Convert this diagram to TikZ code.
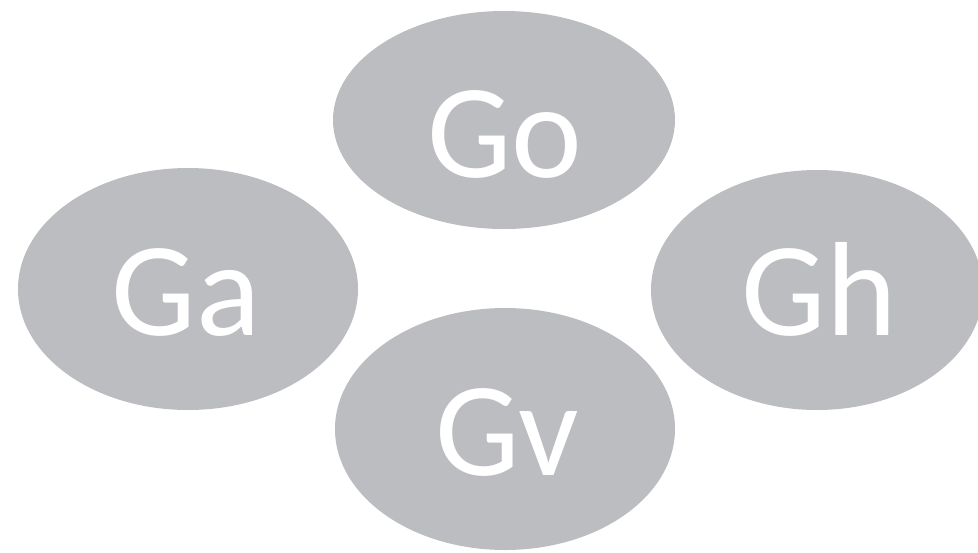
\documentclass[tikz,border=0pt]{standalone}
\usepackage{fontspec}
\setmainfont{Carlito}
\usetikzlibrary{shapes.geometric}
\definecolor{ellgray}{RGB}{188,189,192}
\tikzset{
  blob/.style={ellipse, fill=ellgray, draw=none, inner sep=0pt},
  lbl/.style={text=white, inner sep=0pt, anchor=base, font=\fontsize{134}{134}\selectfont}
}
\begin{document}
\begin{tikzpicture}[x=1pt,y=-1pt]
\useasboundingbox (0,0) rectangle (978,552);
\node[blob, minimum width=342pt, minimum height=218pt] (go) at (504,120) {};
\node[blob, minimum width=340pt, minimum height=242pt] (ga) at (188,289) {};
\node[blob, minimum width=332pt, minimum height=240pt] (gh) at (817,290) {};
\node[blob, minimum width=340pt, minimum height=242pt] (gv) at (505,429) {};
\node[lbl] (got) at (505,177) {Go};
\node[lbl] (gat) at (186,335) {Ga};
\node[lbl] (ght) at (819,335) {Gh};
\node[lbl] (gvt) at (507,475) {Gv};
\end{tikzpicture}
\end{document}
